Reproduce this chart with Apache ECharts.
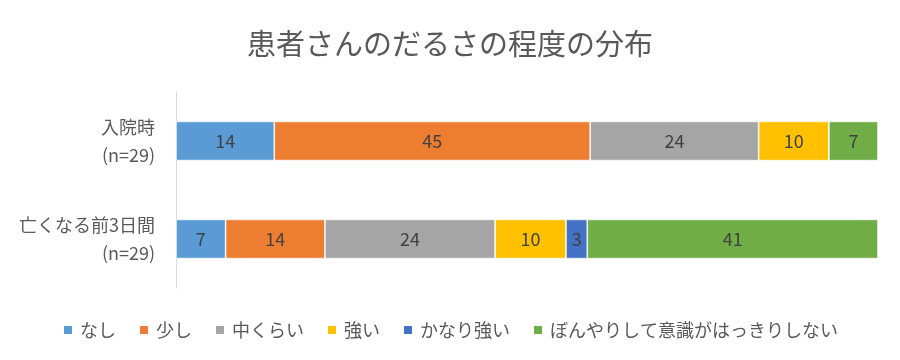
<!DOCTYPE html>
<html><head><meta charset="utf-8">
<script src="https://cdn.jsdelivr.net/npm/echarts@6/dist/echarts.min.js"></script>
<style>html,body{margin:0;padding:0;background:#fff}#c{width:900px;height:360px}</style>
</head><body><div id="c"></div>
<script>
const categories = ['入院時\n(n=29)', '亡くなる前3日間\n(n=29)'];
const seriesNames = ['なし', '少し', '中くらい', '強い', 'かなり強い', 'ぼんやりして意識がはっきりしない'];
const nashi = [14, 7];
const sukoshi = [45, 14];
const nakakurai = [24, 24];
const tsuyoi = [10, 10];
const kanariTsuyoi = [0, 3];
const bonyari = [7, 41];
const colors = ['#5B9BD5', '#ED7D31', '#A5A5A5', '#FFC000', '#4472C4', '#70AD47'];

const all = [nashi, sukoshi, nakakurai, tsuyoi, kanariTsuyoi, bonyari];
const totals = categories.map((_, i) => all.reduce((s, a) => s + a[i], 0));
const font = '"Noto Sans CJK JP", "Noto Sans", sans-serif';

const chart = echarts.init(document.getElementById('c'));
chart.setOption({
  animation: false,
  title: {
    text: '患者さんのだるさの程度の分布',
    left: 'center', top: 24,
    textStyle: { fontFamily: font, fontSize: 29, fontWeight: 'normal', color: '#595959' }
  },
  legend: {
    top: 316, left: 'center',
    itemWidth: 10, itemHeight: 10, itemGap: 22,
    icon: 'rect',
    textStyle: { fontFamily: font, fontSize: 18, color: '#595959', padding: [0, 0, 0, 2] },
    data: seriesNames
  },
  grid: { left: 176, right: 22, top: 92, bottom: 72 },
  xAxis: {
    type: 'value', min: 0, max: 100, show: false
  },
  yAxis: {
    type: 'category', inverse: true, data: categories,
    axisLine: { show: true, lineStyle: { color: '#D9D9D9', width: 1 } },
    axisTick: { show: false },
    axisLabel: { fontFamily: font, fontSize: 18, color: '#595959', lineHeight: 28, margin: 21, align: 'right' }
  },
  series: all.map((arr, k) => ({
    name: seriesNames[k],
    type: 'bar',
    stack: 'total',
    barWidth: '40%',
    itemStyle: { color: colors[k], borderColor: '#fff', borderWidth: 0.7 },
    label: {
      show: true, position: 'inside',
      fontFamily: font, fontSize: 18, color: '#404040',
      formatter: p => (arr[p.dataIndex] === 0 ? '' : String(arr[p.dataIndex]))
    },
    data: arr.map((v, i) => v / totals[i] * 100)
  }))
});
</script></body></html>
